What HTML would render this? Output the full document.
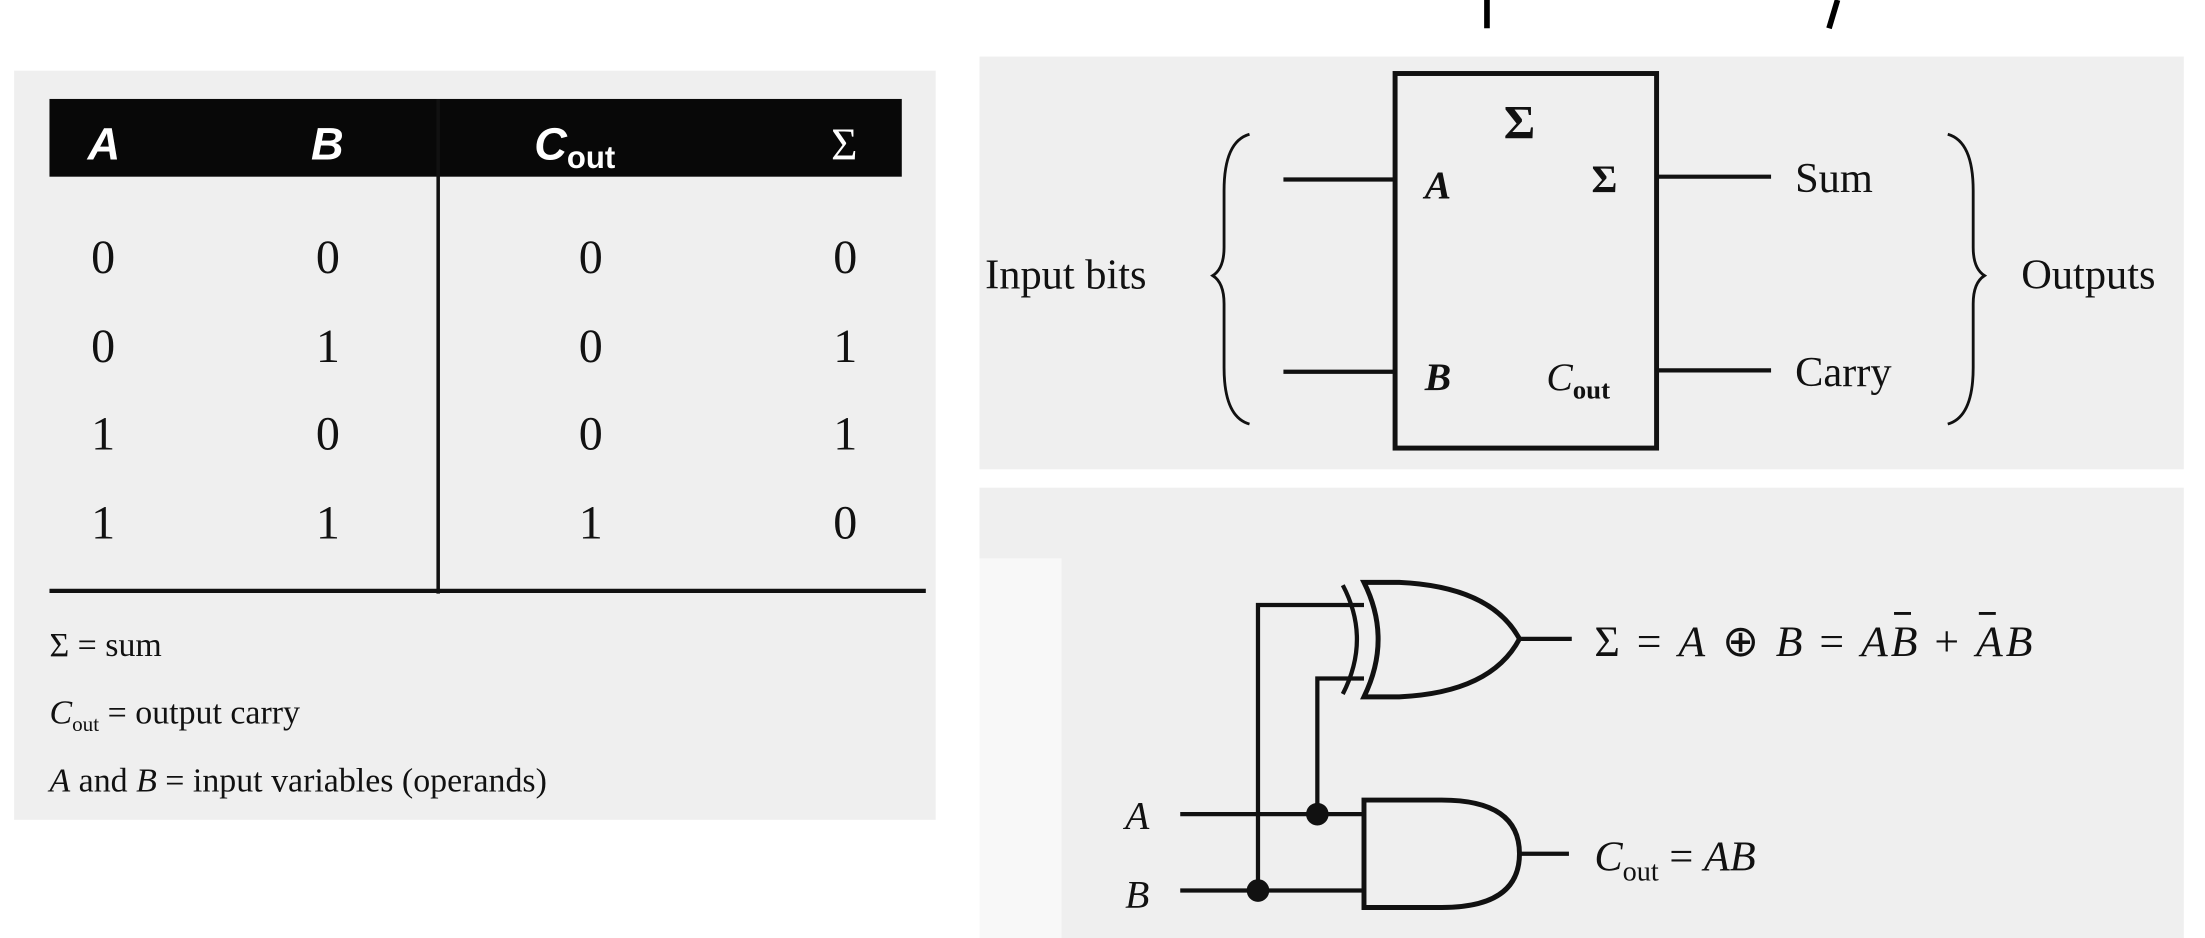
<!DOCTYPE html>
<html><head><meta charset="utf-8"><style>
html,body{margin:0;padding:0;background:#fff;}
svg{display:block;}
.s{font-family:"Liberation Serif",serif;fill:#111;}
.h{font-family:"Liberation Sans",sans-serif;font-weight:bold;font-style:italic;fill:#fff;}
</style></head><body>
<svg width="2205" height="938" viewBox="0 0 1560 663.6" preserveAspectRatio="none" xmlns="http://www.w3.org/2000/svg">
<rect width="1560" height="664" fill="#fff"/>
<rect x="1050" y="0" width="4" height="20" fill="#000"/>
<path d="M1300 0 L1294 20" stroke="#000" stroke-width="4"/>
<rect x="10" y="50" width="652" height="530" fill="#efefef"/>
<rect x="35" y="70" width="603" height="55" fill="#080808"/>
<text class="h" x="62" y="113" font-size="32">A</text>
<text class="h" x="220" y="113" font-size="32">B</text>
<text class="h" x="378" y="113" font-size="32">C<tspan font-size="22" font-style="normal" dy="6">out</tspan></text>
<text class="s" x="588" y="113" font-size="32" style="fill:#fff">Σ</text>
<line x1="310" y1="70" x2="310" y2="420" stroke="#111" stroke-width="2.5"/>
<line x1="35" y1="418" x2="655" y2="418" stroke="#111" stroke-width="3"/>
<g class="s" font-size="34" text-anchor="middle">
<text x="73" y="193">0</text><text x="232" y="193">0</text><text x="418" y="193">0</text><text x="598" y="193">0</text>
<text x="73" y="256">0</text><text x="232" y="256">1</text><text x="418" y="256">0</text><text x="598" y="256">1</text>
<text x="73" y="318">1</text><text x="232" y="318">0</text><text x="418" y="318">0</text><text x="598" y="318">1</text>
<text x="73" y="381">1</text><text x="232" y="381">1</text><text x="418" y="381">1</text><text x="598" y="381">0</text>
</g>
<text class="s" x="35" y="464" font-size="24">Σ = sum</text>
<text class="s" x="35" y="512" font-size="24"><tspan font-style="italic">C</tspan><tspan font-size="15" dy="5">out</tspan><tspan dy="-5"> = output carry</tspan></text>
<text class="s" x="35" y="560" font-size="24"><tspan font-style="italic">A</tspan> and <tspan font-style="italic">B</tspan> = input variables (operands)</text>
<rect x="693" y="40" width="852" height="292" fill="#efefef"/>
<rect x="987" y="52" width="185" height="265" fill="none" stroke="#111" stroke-width="3.5"/>
<text class="s" x="1075" y="98" font-size="34" text-anchor="middle" font-weight="bold">Σ</text>
<text class="s" x="1008" y="140" font-size="28" font-style="italic" font-weight="bold">A</text>
<text class="s" x="1126" y="136" font-size="28" font-weight="bold">Σ</text>
<text class="s" x="1008" y="276" font-size="28" font-style="italic" font-weight="bold">B</text>
<text class="s" x="1094" y="276" font-size="28" font-style="italic">C<tspan font-size="19" font-style="normal" font-weight="bold" dy="6">out</tspan></text>
<g stroke="#111" stroke-width="3" fill="none">
<line x1="908" y1="127" x2="987" y2="127"/><line x1="908" y1="263" x2="987" y2="263"/>
<line x1="1172" y1="125" x2="1253" y2="125"/><line x1="1172" y1="262" x2="1253" y2="262"/>
<path d="M884 95 Q866 100 866 135 L866 175 Q866 190 858 195 Q866 200 866 215 L866 260 Q866 295 884 300" stroke-width="2"/>
<path d="M1378 95 Q1396 100 1396 135 L1396 175 Q1396 190 1404 195 Q1396 200 1396 215 L1396 260 Q1396 295 1378 300" stroke-width="2"/>
</g>
<text class="s" x="1270" y="136" font-size="30">Sum</text>
<text class="s" x="1270" y="273" font-size="30">Carry</text>
<text class="s" x="697" y="204" font-size="30">Input bits</text>
<text class="s" x="1430" y="204" font-size="30">Outputs</text>
<rect x="693" y="345" width="852" height="320" fill="#efefef"/>
<rect x="693" y="395" width="58" height="270" fill="#f8f8f8"/>
<g stroke="#111" stroke-width="3" fill="none">
<path d="M965 412 L990 412 Q1055 415 1075 452 Q1055 490 990 493 L965 493 Q985 452 965 412 Z" stroke-width="3.5"/>
<path d="M950 414 Q970 452 950 491"/>
<line x1="1075" y1="452" x2="1112" y2="452"/>
<path d="M965 566 L1020 566 Q1075 566 1075 604 Q1075 642 1020 642 L965 642 Z" stroke-width="3.5"/>
<line x1="1075" y1="604" x2="1110" y2="604"/>
<line x1="835" y1="576" x2="965" y2="576"/>
<line x1="835" y1="630" x2="965" y2="630"/>
<polyline points="932,576 932,480 965,480"/>
<polyline points="890,630 890,428 965,428"/>
<line x1="1340" y1="434" x2="1352" y2="434" stroke-width="2"/>
<line x1="1400" y1="434" x2="1412" y2="434" stroke-width="2"/>
</g>
<circle cx="932" cy="576" r="8" fill="#111"/>
<circle cx="890" cy="630" r="8" fill="#111"/>
<text class="s" x="1128" y="464" font-size="31" textLength="310" lengthAdjust="spacing"><tspan>Σ = </tspan><tspan font-style="italic">A</tspan> ⊕ <tspan font-style="italic">B</tspan> = <tspan font-style="italic">AB</tspan> + <tspan font-style="italic">AB</tspan></text>
<text class="s" x="1128" y="616" font-size="30"><tspan font-style="italic">C</tspan><tspan font-size="20" dy="7">out</tspan><tspan dy="-7"> = </tspan><tspan font-style="italic">AB</tspan></text>
<text class="s" x="796" y="586" font-size="28" font-style="italic">A</text>
<text class="s" x="796" y="642" font-size="28" font-style="italic">B</text>
</svg>
</body></html>
